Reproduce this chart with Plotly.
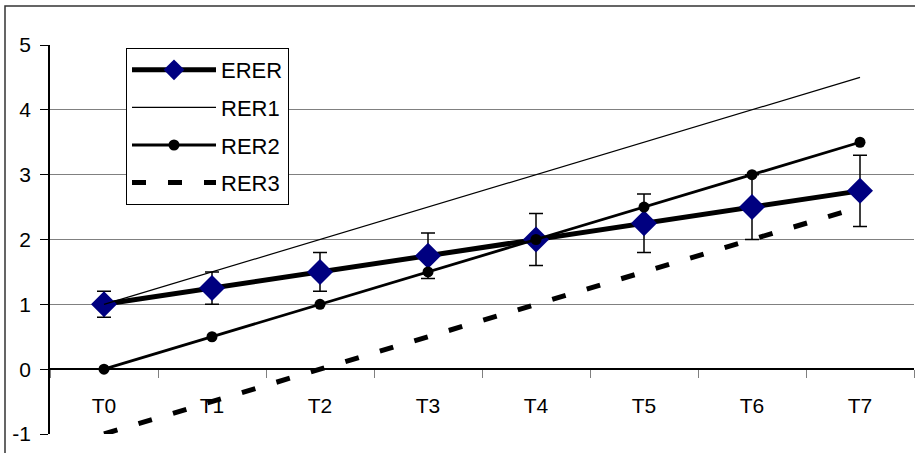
import plotly.graph_objects as go

categories = ["T0", "T1", "T2", "T3", "T4", "T5", "T6", "T7"]
erer = [1, 1.25, 1.5, 1.75, 2, 2.25, 2.5, 2.75]
erer_err = [0.2, 0.25, 0.3, 0.35, 0.4, 0.45, 0.5, 0.55]
rer1 = [1, 1.5, 2, 2.5, 3, 3.5, 4, 4.5]
rer2 = [0, 0.5, 1, 1.5, 2, 2.5, 3, 3.5]
rer3 = [-1, -0.5, 0, 0.5, 1, 1.5, 2, 2.5]
y_ticks = [-1, 0, 1, 2, 3, 4, 5]
y_tick_labels = ["-1", "0", "1", "2", "3", "4", "5"]

FONT = "Liberation Sans, Arial, sans-serif"

fig = go.Figure()
fig.add_trace(go.Scatter(
    x=categories, y=erer, name="ERER", mode="lines+markers", legendgroup="a",
    line=dict(color="black", width=5),
    marker=dict(symbol="diamond", size=20, color="#000080", line=dict(width=0)),
    error_y=dict(type="data", array=erer_err, visible=True, color="black", thickness=1.5, width=7),
))
fig.add_trace(go.Scatter(
    x=categories, y=rer1, name="RER1", mode="lines", legendgroup="b",
    line=dict(color="black", width=1.2),
))
fig.add_trace(go.Scatter(
    x=categories, y=rer2, name="RER2", mode="lines+markers", legendgroup="c",
    line=dict(color="black", width=2.8),
    marker=dict(symbol="circle", size=11, color="black"),
))
fig.add_trace(go.Scatter(
    x=categories, y=rer3, name="RER3", mode="lines", legendgroup="d",
    line=dict(color="black", width=5, dash="14px,22px"),
))

L, R, T, B = 50, 1, 45, 19
W, H = 915, 453
pw, ph = W - L - R, H - T - B

fig.update_layout(
    width=W, height=H,
    margin=dict(l=L, r=R, t=T, b=B, pad=0),
    paper_bgcolor="white", plot_bgcolor="white",
    font=dict(family=FONT, size=21, color="black"),
    showlegend=True,
    legend=dict(
        x=(126 - L) / pw, y=(H - B - 48) / ph, xanchor="left", yanchor="top",
        bordercolor="black", borderwidth=1, bgcolor="white",
        font=dict(family=FONT, size=22, color="black"),
        itemwidth=84, tracegroupgap=6, traceorder="grouped",
    ),
    xaxis=dict(
        type="category", categoryorder="array", categoryarray=categories,
        range=[-0.5, 7.5], anchor="free", position=1 / 6, automargin=False,
        showline=True, linecolor="black", linewidth=1.5,
        ticks="outside", tickson="boundaries", ticklen=8, tickcolor="#808080", tickwidth=1,
        showgrid=False, zeroline=False, ticklabelstandoff=18,
        tickfont=dict(family=FONT, size=21, color="black"),
    ),
    yaxis=dict(
        range=[-1, 5], tickvals=y_ticks, ticktext=y_tick_labels, automargin=False,
        showline=True, linecolor="black", linewidth=1.5,
        ticks="outside", ticklen=8, tickcolor="black",
        showgrid=True, gridcolor="#808080", gridwidth=1, zeroline=False,
        ticklabelstandoff=5,
        tickfont=dict(family=FONT, size=21, color="black"),
    ),
    shapes=[dict(
        type="rect", xref="paper", yref="paper",
        x0=(5 - L) / pw, x1=1.2, y0=-0.3, y1=(H - B - 6) / ph,
        line=dict(color="#333333", width=1.5), fillcolor="rgba(0,0,0,0)", layer="below",
    )],
)

fig.write_html(
    "out.html",
    config={"displayModeBar": False},
    post_script="document.body.style.margin='0';document.body.style.overflow='hidden';",
)
